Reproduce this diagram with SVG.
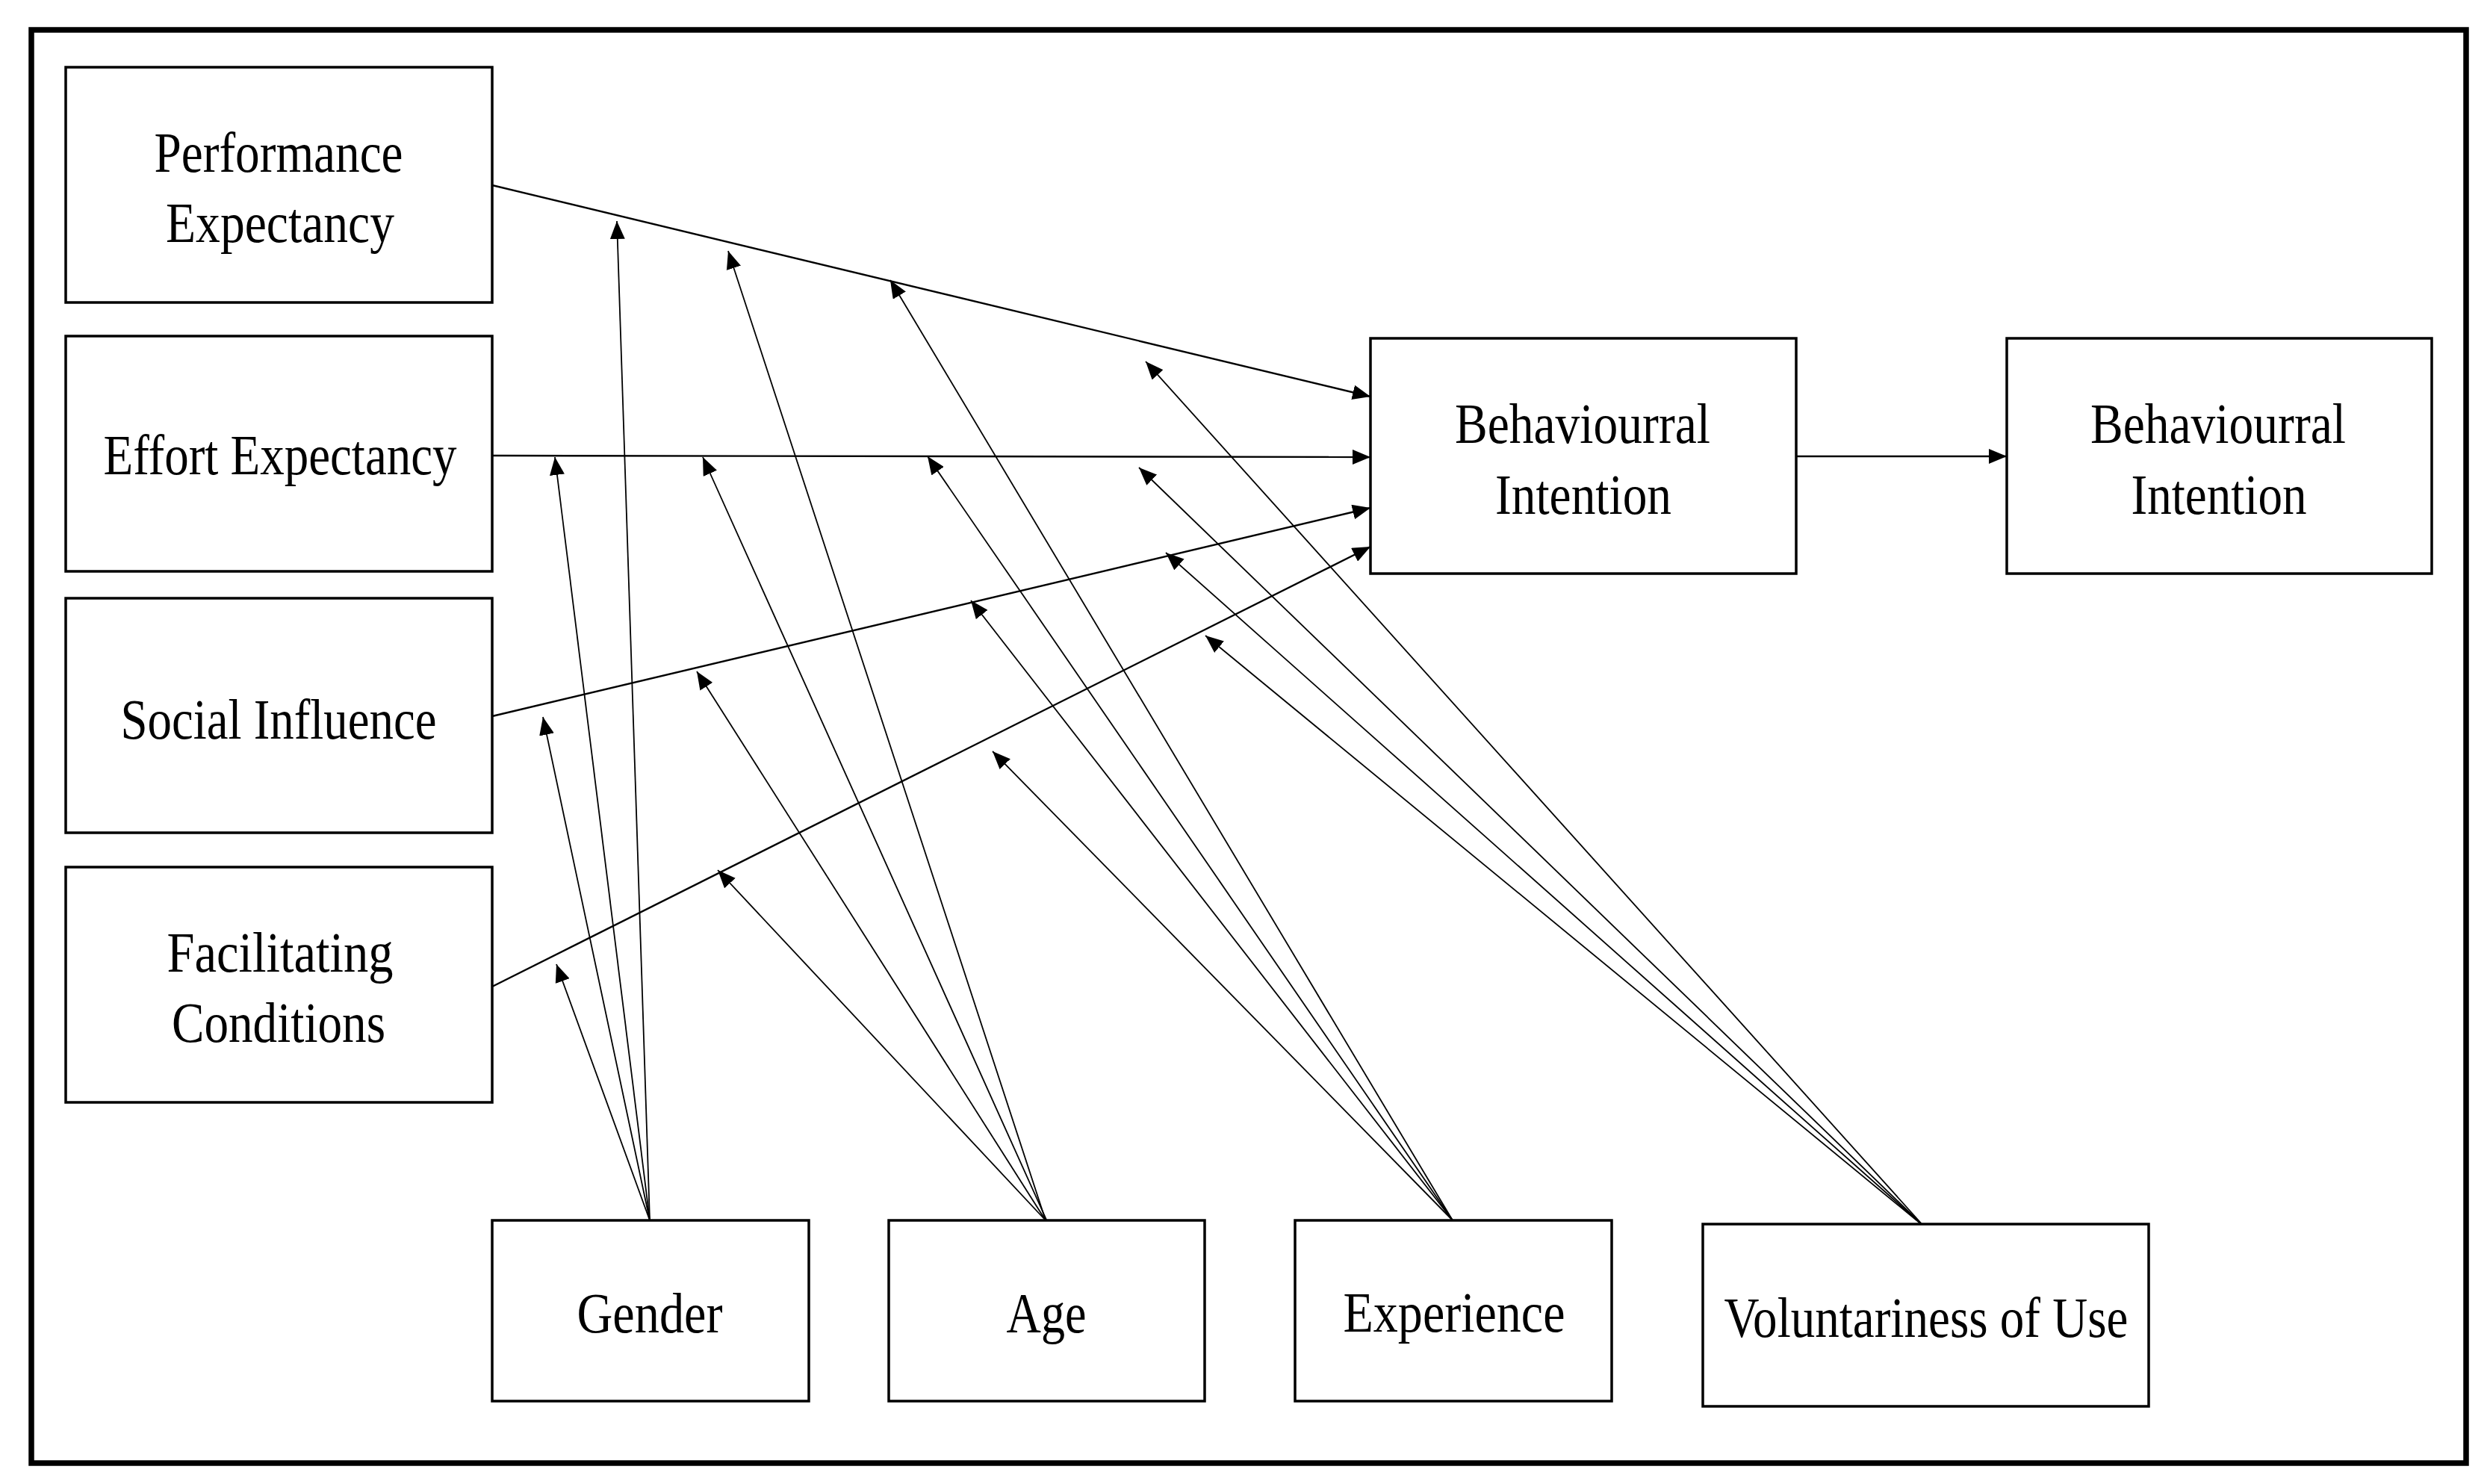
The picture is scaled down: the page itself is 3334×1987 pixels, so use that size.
<svg xmlns="http://www.w3.org/2000/svg" width="3334" height="1987" viewBox="0 0 3334 1987">
<style>
.box{fill:#fff;stroke:#000;stroke-width:3.5}
.frame{fill:none;stroke:#000;stroke-width:7.5}
.lbl{font-family:"Liberation Serif","Times New Roman",serif;font-size:77px;fill:#000;text-anchor:middle}
.main{stroke:#000;stroke-width:2.4;fill:none}
.mod{stroke:#000;stroke-width:1.8;fill:none}
</style>
<defs>
<marker id="ah" markerUnits="userSpaceOnUse" markerWidth="24" markerHeight="20" refX="24" refY="10" orient="auto">
<path d="M0,0 L24,10 L0,20 z" fill="#000"/>
</marker>
</defs>
<rect x="0" y="0" width="3334" height="1987" fill="#fff"/>
<rect class="frame" x="42" y="40" width="3260" height="1919"/>

<g id="connectors">
<line class="main" x1="659" y1="248" x2="1835" y2="531" marker-end="url(#ah)"/>
<line class="main" x1="659" y1="610" x2="1835" y2="612" marker-end="url(#ah)"/>
<line class="main" x1="659" y1="959" x2="1835" y2="680" marker-end="url(#ah)"/>
<line class="main" x1="659" y1="1321" x2="1835" y2="732" marker-end="url(#ah)"/>
<line class="main" x1="2405" y1="611" x2="2687" y2="611" marker-end="url(#ah)"/>

<line class="mod" x1="870" y1="1634" x2="826" y2="296" marker-end="url(#ah)"/>
<line class="mod" x1="870" y1="1634" x2="743" y2="612" marker-end="url(#ah)"/>
<line class="mod" x1="870" y1="1634" x2="727" y2="960" marker-end="url(#ah)"/>
<line class="mod" x1="870" y1="1634" x2="745" y2="1291" marker-end="url(#ah)"/>

<line class="mod" x1="1400" y1="1634" x2="975" y2="336" marker-end="url(#ah)"/>
<line class="mod" x1="1410" y1="1653" x2="941" y2="612" marker-end="url(#ah)"/>
<line class="mod" x1="1400" y1="1634" x2="933" y2="899" marker-end="url(#ah)"/>
<line class="mod" x1="1400" y1="1634" x2="961" y2="1165" marker-end="url(#ah)"/>

<line class="mod" x1="1945" y1="1634" x2="1192" y2="375" marker-end="url(#ah)"/>
<line class="mod" x1="1945" y1="1634" x2="1242" y2="611" marker-end="url(#ah)"/>
<line class="mod" x1="1945" y1="1634" x2="1300" y2="804" marker-end="url(#ah)"/>
<line class="mod" x1="1945" y1="1634" x2="1329" y2="1006" marker-end="url(#ah)"/>

<line class="mod" x1="2576" y1="1642" x2="1534" y2="484" marker-end="url(#ah)"/>
<line class="mod" x1="2576" y1="1642" x2="1525" y2="626" marker-end="url(#ah)"/>
<line class="mod" x1="2576" y1="1642" x2="1561" y2="740" marker-end="url(#ah)"/>
<line class="mod" x1="2576" y1="1642" x2="1614" y2="851" marker-end="url(#ah)"/>
</g>

<g id="performance-expectancy">
<rect class="box" x="88" y="90" width="571" height="315"/>
<text class="lbl" x="373" y="230" textLength="333" lengthAdjust="spacingAndGlyphs">Performance</text>
<text class="lbl" x="375" y="324" textLength="306" lengthAdjust="spacingAndGlyphs">Expectancy</text>
</g>
<g id="effort-expectancy">
<rect class="box" x="88" y="450" width="571" height="315"/>
<text class="lbl" x="375" y="635" textLength="473" lengthAdjust="spacingAndGlyphs">Effort Expectancy</text>
</g>
<g id="social-influence">
<rect class="box" x="88" y="801" width="571" height="314"/>
<text class="lbl" x="373" y="989" textLength="423" lengthAdjust="spacingAndGlyphs">Social Influence</text>
</g>
<g id="facilitating-conditions">
<rect class="box" x="88" y="1161" width="571" height="315"/>
<text class="lbl" x="375" y="1301" textLength="303" lengthAdjust="spacingAndGlyphs">Facilitating</text>
<text class="lbl" x="373" y="1395" textLength="286" lengthAdjust="spacingAndGlyphs">Conditions</text>
</g>
<g id="behavioural-intention-1">
<rect class="box" x="1835" y="453" width="570" height="315"/>
<text class="lbl" x="2119" y="593" textLength="342" lengthAdjust="spacingAndGlyphs">Behaviourral</text>
<text class="lbl" x="2120" y="688" textLength="236" lengthAdjust="spacingAndGlyphs">Intention</text>
</g>
<g id="behavioural-intention-2">
<rect class="box" x="2687" y="453" width="569" height="315"/>
<text class="lbl" x="2970" y="593" textLength="342" lengthAdjust="spacingAndGlyphs">Behaviourral</text>
<text class="lbl" x="2971" y="688" textLength="235" lengthAdjust="spacingAndGlyphs">Intention</text>
</g>
<g id="gender">
<rect class="box" x="659" y="1634" width="424" height="242"/>
<text class="lbl" x="870" y="1784" textLength="195" lengthAdjust="spacingAndGlyphs">Gender</text>
</g>
<g id="age">
<rect class="box" x="1190" y="1634" width="423" height="242"/>
<text class="lbl" x="1401" y="1784" textLength="107" lengthAdjust="spacingAndGlyphs">Age</text>
</g>
<g id="experience">
<rect class="box" x="1734" y="1634" width="424" height="242"/>
<text class="lbl" x="1947" y="1783" textLength="297" lengthAdjust="spacingAndGlyphs">Experience</text>
</g>
<g id="voluntariness-of-use">
<rect class="box" x="2280" y="1639" width="597" height="244"/>
<text class="lbl" x="2579" y="1790" textLength="541" lengthAdjust="spacingAndGlyphs">Voluntariness of Use</text>
</g>
</svg>
